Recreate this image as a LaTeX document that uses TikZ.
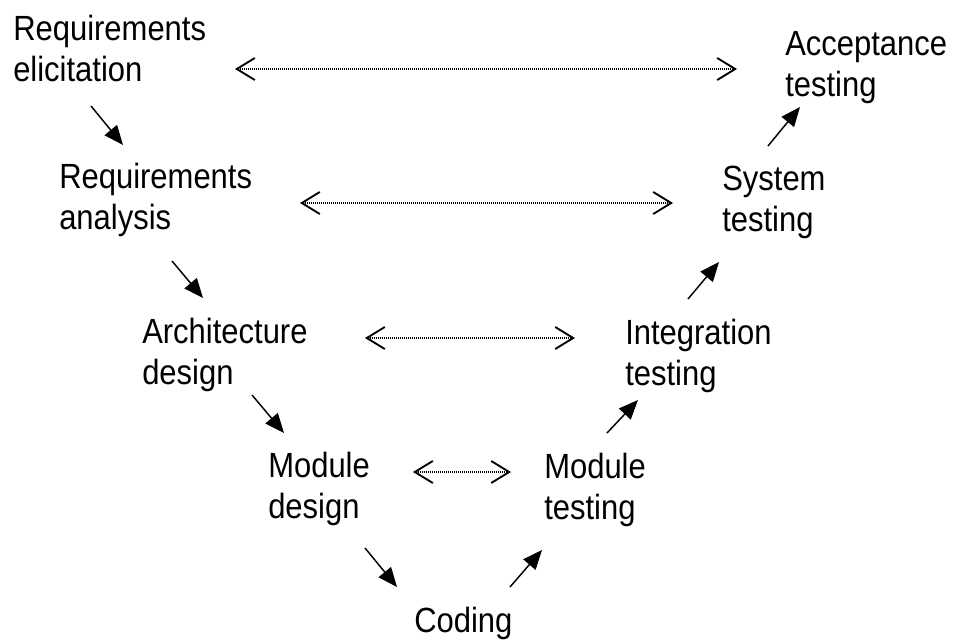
\documentclass[tikz,border=0pt]{standalone}
\usepackage{fontspec}
\newfontfamily\stagefont[FakeStretch=0.885]{Liberation Sans}
\usetikzlibrary{arrows.meta}

\begin{document}
\begin{tikzpicture}[x=0.75pt,y=-0.75pt,
  stage/.style={anchor=base west,inner sep=0pt,align=left,font=\stagefont\fontsize{26.25pt}{30.75pt}\selectfont},
  flow/.style={-{Triangle[length=14.5pt,width=12pt]},line width=1.1pt},
  trace/.style={{Straight Barb[length=13.5pt,width=16.5pt,line width=1.4pt]}-{Straight Barb[length=13.5pt,width=16.5pt,line width=1.4pt]},line width=0.9pt,dash pattern=on 0.75pt off 0.75pt}]
\useasboundingbox (0,0) rectangle (956,642);
\node[stage] (re) at (13,82) {Requirements\\elicitation};
\node[stage] (ra) at (59,229) {Requirements\\analysis};
\node[stage] (arch) at (142,384) {Architecture\\design};
\node[stage] (md) at (268,518) {Module\\design};
\node[stage] (cod) at (414,632) {Coding};
\node[stage] (mt) at (544,519) {Module\\testing};
\node[stage] (int) at (625,385) {Integration\\testing};
\node[stage] (sys) at (722,231) {System\\testing};
\node[stage] (acc) at (785,96) {Acceptance\\testing};
\draw[flow] ([shift={(78,24)}]re.base west) -- ([shift={(64,-84)}]ra.base west);
\draw[flow] ([shift={(113,32)}]ra.base west) -- ([shift={(61,-86)}]arch.base west);
\draw[flow] ([shift={(110,11)}]arch.base west) -- ([shift={(16,-85)}]md.base west);
\draw[flow] ([shift={(97,30)}]md.base west) -- ([shift={(-17,-45)}]cod.base west);
\draw[flow] ([shift={(96,-45)}]cod.base west) -- ([shift={(-2,31)}]mt.base west);
\draw[flow] ([shift={(63,-86)}]mt.base west) -- ([shift={(13,15)}]int.base west);
\draw[flow] ([shift={(63,-86)}]int.base west) -- ([shift={(-3,31)}]sys.base west);
\draw[flow] ([shift={(46,-85)}]sys.base west) -- ([shift={(15,11)}]acc.base west);
\draw[trace] ([shift={(222,-13)}]re.base west) -- ([shift={(-48,-27)}]acc.base west);
\draw[trace] ([shift={(241,-26)}]ra.base west) -- ([shift={(-49,-28)}]sys.base west);
\draw[trace] ([shift={(223,-46)}]arch.base west) -- ([shift={(-50,-47)}]int.base west);
\draw[trace] ([shift={(145,-46)}]md.base west) -- ([shift={(-33,-47)}]mt.base west);
\end{tikzpicture}
\end{document}
